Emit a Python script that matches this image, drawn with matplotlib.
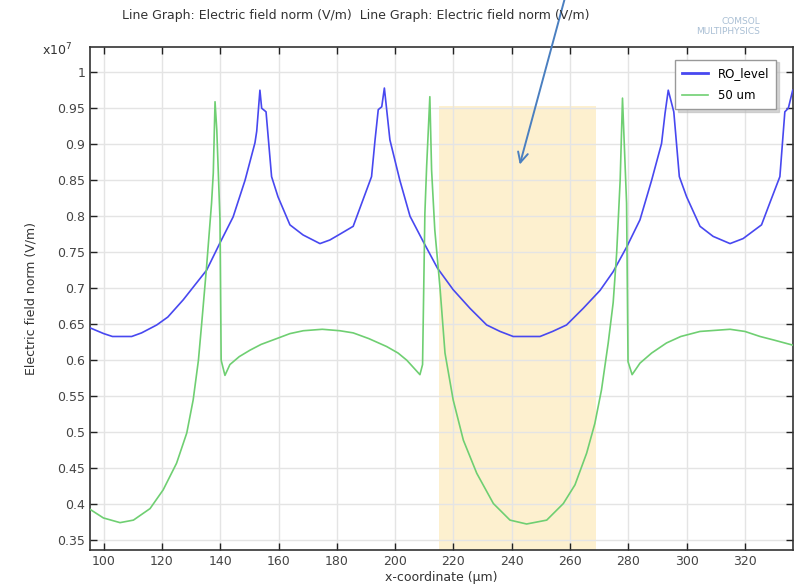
import matplotlib
matplotlib.use("Agg")
import matplotlib.pyplot as plt
import matplotlib.patches as mpatches

# ---------------- data (field values in units of 1e7 V/m) ----------------
ro_x = [95.3, 100, 103, 109.6, 113, 118.2, 122, 127.3, 131, 135.3, 139.9, 144.4,
        148.5, 151.9, 152.5, 153.6, 154.2, 155.7, 157.6, 159.8, 163.9, 168.4,
        174.2, 177.6, 181, 185.6, 191.9, 193.1, 194.2, 195.4, 196.3, 198.2,
        201.6, 205.1, 209.6, 214.5, 219.9, 225.7, 231.4, 236, 240.5, 249.7,
        254, 258.8, 264.5, 270.3, 274.8, 279.4, 284.0, 288.0, 291.4, 292.6,
        293.7, 295.6, 297.5, 300, 304.6, 309.1, 314.9, 319.4, 325.7, 328.5,
        332, 333.7, 334.9, 336.4]
ro_e = [0.645, 0.637, 0.633, 0.633, 0.638, 0.649, 0.660, 0.684, 0.703, 0.725,
        0.763, 0.799, 0.850, 0.902, 0.918, 0.975, 0.950, 0.945, 0.855, 0.827,
        0.788, 0.774, 0.762, 0.767, 0.775, 0.786, 0.855, 0.906, 0.948, 0.952,
        0.978, 0.906, 0.850, 0.800, 0.765, 0.728, 0.698, 0.672, 0.649, 0.640,
        0.633, 0.633, 0.640, 0.649, 0.672, 0.697, 0.723, 0.757, 0.795, 0.850,
        0.901, 0.943, 0.975, 0.945, 0.855, 0.827, 0.786, 0.772, 0.762, 0.769,
        0.788, 0.818, 0.855, 0.945, 0.950, 0.975]

um50_x = [95.3, 99.9, 105.6, 110.2, 115.9, 120.4, 125.0, 128.5, 130.7, 132.5,
          133.6, 135.3, 137.0, 137.6, 138.2, 138.8, 139.9, 140.3, 141.6, 143.3,
          146.5, 150.2, 154, 159.3, 163.9, 168.5, 175, 181, 185.6, 191, 197.1,
          201, 204.0, 208.5, 209.4, 210.2, 210.8, 211.9, 212.5, 213.6, 215.4,
          217.1, 219.9, 223.4, 228.0, 233.7, 239.4, 245.1, 252.0, 257.7, 261.7,
          265.7, 268.5, 270.8, 273.1, 274.8, 276.0, 277.2, 278.0, 279.4, 279.9,
          281.3, 284.0, 288, 293.1, 298, 304.6, 314.9, 320, 325.2, 330, 336.4]
um50_e = [0.393, 0.381, 0.3745, 0.378, 0.394, 0.420, 0.457, 0.499, 0.545, 0.600,
          0.650, 0.730, 0.818, 0.860, 0.959, 0.920, 0.795, 0.600, 0.579, 0.594,
          0.605, 0.614, 0.622, 0.630, 0.637, 0.641, 0.643, 0.641, 0.638, 0.630,
          0.619, 0.610, 0.600, 0.580, 0.594, 0.804, 0.869, 0.966, 0.864, 0.781,
          0.700, 0.610, 0.545, 0.489, 0.443, 0.401, 0.378, 0.3726, 0.378, 0.401,
          0.427, 0.471, 0.512, 0.559, 0.624, 0.680, 0.749, 0.850, 0.964, 0.818,
          0.598, 0.580, 0.596, 0.610, 0.624, 0.633, 0.640, 0.643, 0.640, 0.633,
          0.628, 0.621]

series_labels = ["RO_level", "50 um"]
highlight_x = [215.0, 268.9]
highlight_top = 0.953
arrow_tip = (242.5, 0.868)
x_ticks = [100, 120, 140, 160, 180, 200, 220, 240, 260, 280, 300, 320]
y_ticks = [0.35, 0.4, 0.45, 0.5, 0.55, 0.6, 0.65, 0.7, 0.75, 0.8, 0.85, 0.9, 0.95, 1.0]
y_tick_labels = ["0.35", "0.4", "0.45", "0.5", "0.55", "0.6", "0.65", "0.7",
                 "0.75", "0.8", "0.85", "0.9", "0.95", "1"]

# ---------------- figure ----------------
plt.rcParams['font.family'] = ['DejaVu Sans']
fig = plt.figure(figsize=(7.95, 5.84), dpi=100)
ax = fig.add_axes([90 / 795, 1 - 550 / 584, 703 / 795, 503 / 584])

ax.set_xlim(95.3, 336.5)
ax.set_ylim(0.3365, 1.035)

# highlight
ax.add_patch(mpatches.Rectangle((highlight_x[0], 0.3365), highlight_x[1] - highlight_x[0],
                                highlight_top - 0.3365, facecolor='#fdf0cf',
                                edgecolor='none', zorder=0.5))

ax.plot(ro_x, ro_e, color='#4848f0', lw=1.2, label=series_labels[0], zorder=3)
ax.plot(um50_x, um50_e, color='#6fcf72', lw=1.2, label=series_labels[1], zorder=3)

ax.set_xticks(x_ticks)
ax.set_yticks(y_ticks)
ax.set_yticklabels(y_tick_labels)
ax.grid(True, color='#e4e4e4', lw=1.0, zorder=0)
ax.set_axisbelow(True)
ax.tick_params(direction='in', top=True, right=True, length=5, width=1,
               labelsize=9, colors='#222222')
ax.tick_params(axis='both', labelcolor='#444444')
for s in ax.spines.values():
    s.set_color('#333333')
    s.set_linewidth(1.2)

ax.set_xlabel('x-coordinate (µm)', fontsize=9, color='#333333', labelpad=2)
ax.set_ylabel('Electric field norm (V/m)', fontsize=9, color='#333333', labelpad=14)

fig.text(42 / 795, 1 - 50 / 584, r'x10$^7$', fontsize=9, color='#333333',
         ha='left', va='center')

leg = ax.legend(loc='upper right', bbox_to_anchor=(0.976, 0.975), fontsize=8.5,
                frameon=True, fancybox=False,
                shadow={'color': '#bbbbbb', 'alpha': 0.6, 'ox': 2, 'oy': -2},
                handlelength=2.2, borderpad=0.6, labelspacing=0.8,
                handletextpad=0.8, borderaxespad=0.0)
leg.get_frame().set_edgecolor('#999999')
leg.get_frame().set_linewidth(1.0)
for line in leg.get_lines():
    line.set_linewidth(2.0 if line.get_label() == series_labels[0] else 1.2)

fig.text(122 / 795, 1 - 15 / 584,
         'Line Graph: Electric field norm (V/m)  Line Graph: Electric field norm (V/m)',
         fontsize=9, color='#333333', ha='left', va='center')

fig.text(760 / 795, 1 - 21 / 584, 'COMSOL', fontsize=6.5, color='#a9bfd4',
         ha='right', va='center')
fig.text(760 / 795, 1 - 32 / 584, 'MULTIPHYSICS', fontsize=6.5, color='#a9bfd4',
         ha='right', va='center')

ax.annotate('', xy=arrow_tip, xycoords='data',
            xytext=(566, 590), textcoords='figure pixels',
            arrowprops=dict(arrowstyle='->', color='#4a7fc0', lw=1.4,
                            mutation_scale=18),
            annotation_clip=False, zorder=5)

fig.savefig('out.png', dpi=100)
